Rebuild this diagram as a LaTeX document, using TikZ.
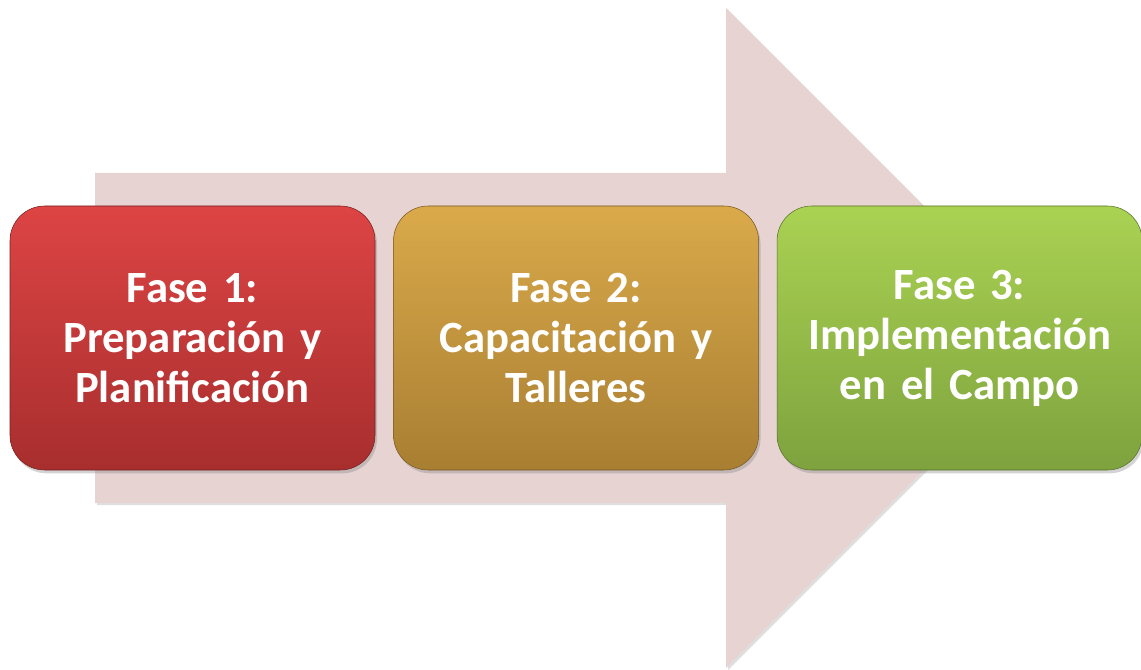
\documentclass[tikz,border=0pt]{standalone}
\usepackage{fontspec}
\setmainfont{Carlito}[WordSpace=0.75]
\usetikzlibrary{positioning}
\usetikzlibrary{shadows}

\definecolor{arrowpink}{RGB}{232,211,211}
\definecolor{redtop}{RGB}{221,68,68}
\definecolor{redbot}{RGB}{168,46,46}
\definecolor{goldtop}{RGB}{218,170,74}
\definecolor{goldbot}{RGB}{168,126,50}
\definecolor{greentop}{RGB}{170,210,82}
\definecolor{greenbot}{RGB}{126,162,62}

\tikzset{
  phase/.style={rounded corners=26pt,minimum width=273.75pt,minimum height=198pt,
    text width=265pt,align=center,text=white,
    font=\fontsize{33.5}{37.5}\selectfont\bfseries,
    drop shadow={opacity=0.35,shadow xshift=1.5pt,shadow yshift=-2.5pt}},
}

\begin{document}
\begin{tikzpicture}[x=0.75pt,y=-0.75pt]
\useasboundingbox (0,0) rectangle (1141,670);

% big arrow behind the phases
\fill[arrowpink,drop shadow={opacity=0.25,shadow xshift=1.5pt,shadow yshift=-1.5pt}]
  (95,173) -- (726,173) -- (726,8) -- (1056,338) -- (726,668) -- (726,503) -- (95,503) -- cycle;

\node[phase,top color=redtop,bottom color=redbot,draw=redbot!70!black,line width=0.4pt] (fase1) at (192.5,338) {Fase 1:\\Preparación y\\Planificación};
\node[phase,top color=goldtop,bottom color=goldbot,draw=goldbot!70!black,line width=0.4pt,right=13.5pt of fase1] (fase2) {Fase 2:\\Capacitación y\\Talleres};
\node[phase,top color=greentop,bottom color=greenbot,draw=greenbot!70!black,line width=0.4pt,right=13.5pt of fase2] (fase3) {Fase 3:\\Implementación\\en el Campo};
\end{tikzpicture}
\end{document}
